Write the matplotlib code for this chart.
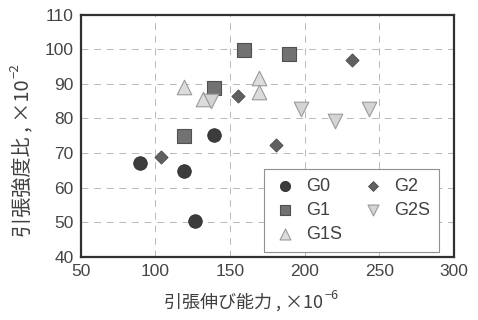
import matplotlib
matplotlib.use('Agg')
import matplotlib.pyplot as plt

# data
g0_x = [89.7, 119.4, 139.0, 126.3]
g0_y = [67.0, 64.8, 75.3, 50.2]
g1_x = [159.0, 189.4, 139.0, 119.4]
g1_y = [99.8, 98.5, 88.8, 74.8]
g1s_x = [119.4, 132.0, 169.3, 169.3]
g1s_y = [89.2, 85.5, 91.8, 87.6]
g2_x = [104.0, 155.3, 180.5, 231.3]
g2_y = [68.7, 86.5, 72.3, 97.0]
g2s_x = [137.2, 197.6, 220.2, 243.1]
g2s_y = [84.9, 82.6, 79.3, 82.8]

xticks = [50, 100, 150, 200, 250, 300]
yticks = [40, 50, 60, 70, 80, 90, 100, 110]

jp = ['Noto Sans CJK JP', 'DejaVu Sans']
grey = '#404040'

fig = plt.figure(figsize=(4.78, 3.2), dpi=100)
ax = fig.add_axes([0.169, 0.198, 0.781, 0.756])

ax.scatter(g0_x, g0_y, marker='o', s=95, c='#3c3c3c', edgecolors='#2a2a2a', linewidths=0.6, label='G0', zorder=3)
ax.scatter(g1_x, g1_y, marker='s', s=95, c='#727272', edgecolors='#505050', linewidths=0.8, label='G1', zorder=3)
ax.scatter(g1s_x, g1s_y, marker='^', s=110, c='#dcdcdc', edgecolors='#9a9a9a', linewidths=0.8, label='G1S', zorder=3)
ax.scatter(g2_x, g2_y, marker='D', s=45, c='#606060', edgecolors='#4a4a4a', linewidths=0.6, label='G2', zorder=3)
ax.scatter(g2s_x, g2s_y, marker='v', s=110, c='#d4d4d4', edgecolors='#9a9a9a', linewidths=0.8, label='G2S', zorder=3)

ax.set_xlim(50, 300)
ax.set_ylim(40, 110)
ax.set_xticks(xticks)
ax.set_yticks(yticks)
ax.grid(True, linestyle=(0, (7, 6)), color='#b8b8b8', linewidth=0.7)
ax.tick_params(length=0, labelsize=12.5, colors='#454545', pad=5)
for lab in ax.get_xticklabels() + ax.get_yticklabels():
    lab.set_fontfamily('Liberation Sans')
for sp in ax.spines.values():
    sp.set_linewidth(1.6)
    sp.set_color('#303030')

# axis labels with raised exponents
xl = fig.text(0.343, 0.056, '引張伸び能力 , ×10', family=jp, fontsize=13, color=grey,
              ha='left', va='center')
ax.annotate('−6', xy=(1, 1), xycoords=xl, xytext=(1, 2.5), textcoords='offset points',
            ha='left', va='top', fontsize=9, color=grey, family=jp)
yl = fig.text(0.048, 0.26, '引張強度比 , ×10', family=jp, fontsize=14.5, color=grey,
              rotation=90, ha='center', va='bottom')
ax.annotate('−2', xy=(0, 1), xycoords=yl, xytext=(-2.5, 1), textcoords='offset points',
            ha='left', va='bottom', rotation=90, fontsize=9.5, color=grey, family=jp)

leg = ax.legend(ncol=2, loc='lower right', bbox_to_anchor=(0.96, 0.019), borderaxespad=0,
                prop={'family': 'Liberation Sans', 'size': 13},
                fancybox=False, framealpha=1, edgecolor='#909090',
                handletextpad=0.5, columnspacing=1.1, labelspacing=0.4,
                borderpad=0.5, handlelength=1.3, markerscale=0.75)
leg.get_frame().set_linewidth(0.8)
for t in leg.get_texts():
    t.set_color(grey)

fig.savefig('out.png', dpi=100)
